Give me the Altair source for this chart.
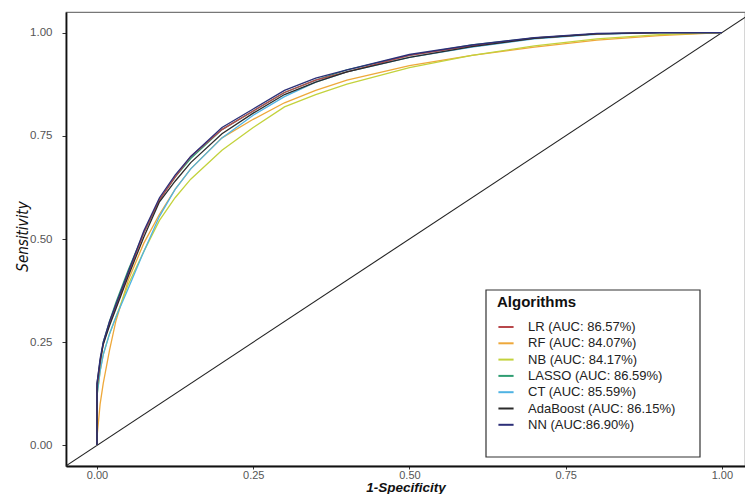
import altair as alt
import pandas as pd

# false positive rate grid (first 0 repeated for the vertical start)
fpr = [0, 0, 0.005, 0.01, 0.02, 0.03, 0.05, 0.075, 0.1, 0.125, 0.15, 0.2, 0.25,
       0.3, 0.35, 0.4, 0.5, 0.6, 0.7, 0.8, 0.9, 1.0]

tpr_lr = [0, 0.14, 0.20, 0.245, 0.295, 0.335, 0.415, 0.515, 0.595, 0.65, 0.70, 0.765,
          0.81, 0.855, 0.885, 0.905, 0.945, 0.968, 0.987, 0.997, 1.0, 1.0]
tpr_rf = [0, 0.02, 0.10, 0.15, 0.23, 0.30, 0.40, 0.49, 0.56, 0.62, 0.67, 0.745,
          0.79, 0.83, 0.86, 0.885, 0.92, 0.945, 0.965, 0.982, 0.993, 1.0]
tpr_nb = [0, 0.12, 0.18, 0.22, 0.27, 0.31, 0.39, 0.47, 0.545, 0.60, 0.645, 0.715,
          0.77, 0.82, 0.85, 0.875, 0.915, 0.945, 0.968, 0.985, 0.995, 1.0]
tpr_lasso = [0, 0.13, 0.20, 0.25, 0.30, 0.345, 0.425, 0.515, 0.595, 0.65, 0.695, 0.765,
             0.81, 0.855, 0.885, 0.91, 0.945, 0.97, 0.987, 0.997, 1.0, 1.0]
tpr_ct = [0, 0.12, 0.18, 0.22, 0.27, 0.31, 0.38, 0.47, 0.555, 0.62, 0.67, 0.745,
          0.80, 0.845, 0.88, 0.905, 0.94, 0.965, 0.985, 0.996, 1.0, 1.0]
tpr_ada = [0, 0.15, 0.205, 0.245, 0.29, 0.33, 0.41, 0.505, 0.59, 0.64, 0.685, 0.755,
           0.805, 0.85, 0.88, 0.905, 0.94, 0.966, 0.986, 0.997, 1.0, 1.0]
tpr_nn = [0, 0.15, 0.21, 0.25, 0.30, 0.34, 0.42, 0.52, 0.60, 0.655, 0.70, 0.77,
          0.815, 0.86, 0.89, 0.91, 0.947, 0.97, 0.988, 0.998, 1.0, 1.0]

labels = ["LR (AUC: 86.57%)", "RF (AUC: 84.07%)", "NB (AUC: 84.17%)",
          "LASSO (AUC: 86.59%)", "CT (AUC: 85.59%)", "AdaBoost (AUC: 86.15%)",
          "NN (AUC:86.90%)"]
colors = ["#b8474b", "#eea83a", "#c3d23c", "#2f9d72", "#4fb3e3", "#2b2b2b", "#2c2f78"]
series = [tpr_lr, tpr_rf, tpr_nb, tpr_lasso, tpr_ct, tpr_ada, tpr_nn]

# drawing order (NN on top)
draw_order = [1, 2, 4, 3, 0, 5, 6]
rows = []
for k, i in enumerate(draw_order):
    for j, (x, y) in enumerate(zip(fpr, series[i])):
        rows.append({"model": labels[i], "fpr": x, "tpr": y, "idx": j, "z": k})
df = pd.DataFrame(rows)

diag_x = [-0.05, 1.1]
diag = pd.DataFrame({"fpr": diag_x, "tpr": diag_x})

xs = alt.Scale(domain=[-0.0496, 1.037], nice=False, zero=False)
ys = alt.Scale(domain=[-0.05, 1.05], nice=False, zero=False)
ticks = [0, 0.25, 0.5, 0.75, 1.0]

xaxis = alt.Axis(values=ticks, format=".2f", title="1-Specificity", grid=False,
                 titleFont="Liberation Sans", titleFontSize=13.5, titleFontStyle="italic",
                 titleFontWeight="bold", titleColor="#111",
                 titleY=21, titleBaseline="middle",
                 labelFont="Liberation Sans", labelFontSize=11, labelColor="#555",
                 domainColor="#111", domainWidth=1.8, tickColor="#333", tickSize=3,
                 labelPadding=0)
yaxis = alt.Axis(values=ticks, format=".2f", title="Sensitivity", grid=False,
                 titleFont="DejaVu Sans Condensed", titleFontSize=15,
                 titleFontStyle="italic", titleFontWeight="normal", titleColor="#111",
                 titleX=-44, titleY=224, titleBaseline="middle", titleAngle=270,
                 labelFont="Liberation Sans", labelFontSize=11.5, labelColor="#555",
                 domainColor="#111", domainWidth=1.8, tickColor="#333", tickSize=4,
                 labelPadding=10)

lines = alt.Chart(df).mark_line(strokeWidth=1.3, clip=True).encode(
    x=alt.X("fpr:Q", scale=xs, axis=xaxis),
    y=alt.Y("tpr:Q", scale=ys, axis=yaxis),
    color=alt.Color("model:N", scale=alt.Scale(domain=labels, range=colors),
                    legend=alt.Legend(title="Algorithms", orient="none",
                                      legendX=431, legendY=283,
                                      titleFont="Liberation Sans", titleFontSize=15,
                                      titleFontWeight="bold", titleColor="#111",
                                      labelFont="Liberation Sans", labelFontSize=13,
                                      labelColor="#222", symbolType="stroke",
                                      symbolStrokeWidth=2, symbolSize=230,
                                      rowPadding=0.3, titlePadding=8, labelOffset=13)),
    order="idx:Q",
    detail="z:N",
)

diag_line = alt.Chart(diag).mark_line(color="#222", strokeWidth=1.1, clip=True).encode(
    x=alt.X("fpr:Q", scale=xs),
    y=alt.Y("tpr:Q", scale=ys),
)

box = alt.Chart(pd.DataFrame({"a": [0]})).mark_rect(
    fill="white", stroke="#333", strokeWidth=1.2
).encode(x=alt.value(420), x2=alt.value(634), y=alt.value(278), y2=alt.value(445))

chart = alt.layer(diag_line, box, lines).properties(
    width=679, height=454,
    autosize=alt.AutoSizeParams(type="none"),
    padding={"left": 66, "top": 12, "right": 0, "bottom": 28},
).configure_view(stroke="#777", strokeWidth=1.2).configure_legend(padding=0)

chart.save("out.html", embed_options={"renderer": "svg", "actions": False})
